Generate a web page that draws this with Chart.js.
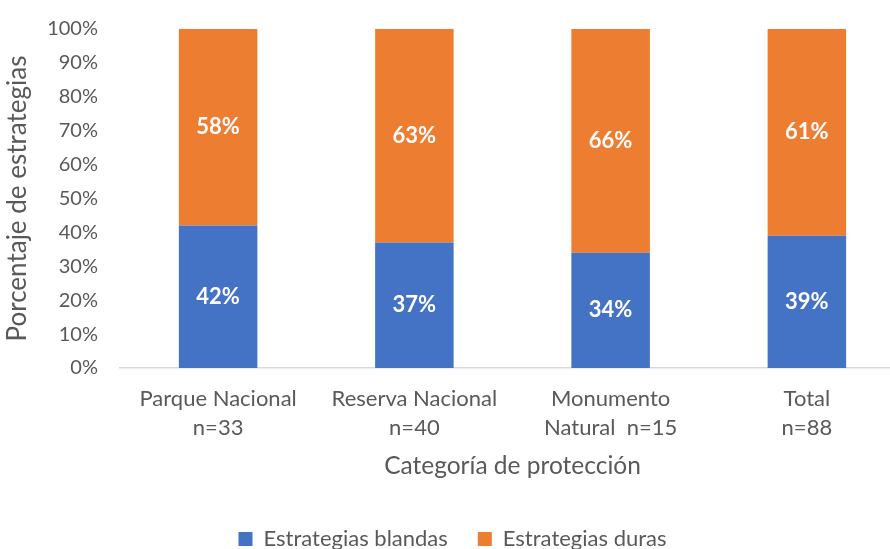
<!DOCTYPE html>
<html>
<head>
<meta charset="utf-8">
<script src="https://cdn.jsdelivr.net/npm/chart.js@4/dist/chart.umd.min.js"></script>
<style>
  html, body { margin: 0; padding: 0; background: #fff; overflow: hidden; width: 890px; height: 549px; }
  #wrap { position: relative; top: -5px; width: 905px; height: 565px; }
</style>
</head>
<body>
<div id="wrap"><canvas id="chart"></canvas></div>
<script>
const categories = [["Parque Nacional", "n=33"], ["Reserva Nacional", "n=40"], ["Monumento", "Natural  n=15"], ["Total", "n=88"]];
const blandas = [42, 37, 34, 39];
const duras = [58, 63, 66, 61];
const yTicks = [0, 10, 20, 30, 40, 50, 60, 70, 80, 90, 100];

const FONT = "Lato, 'Open Sans', sans-serif";
const GREY = "#595959";

// white percent labels in the middle of each segment
const segmentLabels = {
  id: "segmentLabels",
  afterDatasetsDraw(chart) {
    const ctx = chart.ctx;
    ctx.save();
    ctx.fillStyle = "#fff";
    ctx.font = "bold 22px " + FONT;
    ctx.textAlign = "center";
    ctx.textBaseline = "middle";
    chart.data.datasets.forEach((ds, i) => {
      chart.getDatasetMeta(i).data.forEach((bar, j) => {
        ctx.fillText(ds.data[j] + "%", bar.x, (bar.y + bar.base) / 2);
      });
    });
    ctx.restore();
  }
};

new Chart(document.getElementById("chart"), {
  type: "bar",
  data: {
    labels: categories,
    datasets: [
      { label: "Estrategias blandas", data: blandas, backgroundColor: "#4472C4" },
      { label: "Estrategias duras", data: duras, backgroundColor: "#ED7D31" }
    ]
  },
  options: {
    responsive: true,
    maintainAspectRatio: false,
    animation: false,
    layout: { padding: { top: 10, left: 0, right: 0, bottom: 0 } },
    datasets: { bar: { categoryPercentage: 0.4, barPercentage: 1 } },
    plugins: {
      tooltip: { enabled: false },
      legend: {
        position: "bottom",
        labels: {
          color: GREY, font: { family: FONT, size: 22 },
          boxWidth: 14, boxHeight: 14, padding: 30
        }
      }
    },
    scales: {
      x: {
        stacked: true,
        afterFit(scale) { scale.height = 130; },
        grid: { display: false, drawTicks: false },
        border: { display: true, color: "#d9d9d9", width: 1.5 },
        ticks: { color: GREY, font: { family: FONT, size: 22, lineHeight: 1.3 }, padding: 17, maxRotation: 0 },
        title: { display: true, text: "Categoría de protección", color: GREY, font: { family: FONT, size: 24.5 }, padding: { top: 0, bottom: 17 } }
      },
      y: {
        stacked: true,
        min: 0, max: 100,
        afterFit(scale) { scale.width = 120; },
        afterBuildTicks(scale) { scale.ticks = yTicks.map(v => ({ value: v })); },
        grid: { display: false, drawTicks: false },
        border: { display: false },
        ticks: { color: GREY, font: { family: FONT, size: 20 }, padding: 22, callback: v => v + "%" },
        title: { display: true, text: "Porcentaje de estrategias", color: GREY, font: { family: FONT, size: 26 }, padding: 2 }
      }
    }
  },
  plugins: [segmentLabels]
});
</script>
</body>
</html>
